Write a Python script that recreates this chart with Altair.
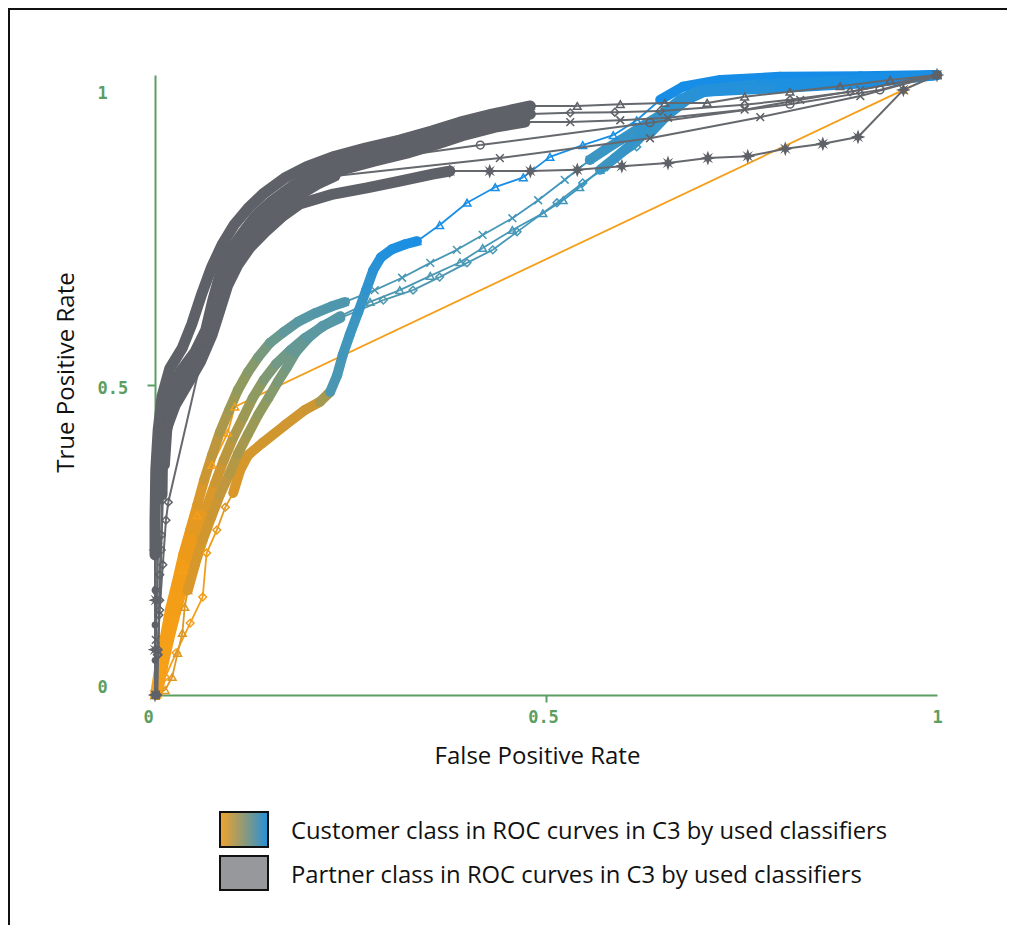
import altair as alt
import pandas as pd

# ---------------- Partner class curves (gray): (FPR, TPR) ----------------
partner_a_start = [(0.0, 0.0), (0.0, 0.056), (0.0, 0.113), (0.0, 0.169), (0.0, 0.226)]
partner_a_band = [(0.0, 0.226), (0.0, 0.282), (0.001, 0.363), (0.004, 0.427), (0.009, 0.482), (0.019, 0.527),
                  (0.035, 0.560), (0.047, 0.598), (0.059, 0.644), (0.072, 0.689), (0.086, 0.727), (0.101, 0.758),
                  (0.119, 0.785), (0.138, 0.808), (0.166, 0.834), (0.194, 0.852), (0.230, 0.869), (0.269, 0.882),
                  (0.313, 0.895), (0.355, 0.910), (0.390, 0.924), (0.431, 0.937), (0.480, 0.950)]
partner_a_tail = [(0.480, 0.950), (0.540, 0.950), (0.595, 0.953), (0.652, 0.955), (0.706, 0.955), (0.754, 0.965),
                  (0.812, 0.973), (0.876, 0.982), (0.940, 0.992), (1.0, 1.0)]

partner_b_start = [(0.003, 0.0), (0.004, 0.065), (0.005, 0.129), (0.006, 0.194), (0.008, 0.258), (0.009, 0.323)]
partner_b_band = [(0.009, 0.323), (0.010, 0.427), (0.019, 0.479), (0.032, 0.521), (0.051, 0.553), (0.065, 0.589),
                  (0.074, 0.637), (0.084, 0.682), (0.097, 0.718), (0.113, 0.747), (0.129, 0.773), (0.148, 0.795),
                  (0.176, 0.821), (0.202, 0.839), (0.237, 0.856), (0.275, 0.869), (0.317, 0.882), (0.359, 0.897),
                  (0.390, 0.910), (0.432, 0.924), (0.480, 0.937)]
partner_b_tail = [(0.480, 0.937), (0.531, 0.939), (0.588, 0.940), (0.646, 0.942), (0.754, 0.952), (0.812, 0.960),
                  (0.889, 0.973), (1.0, 1.0)]

partner_c_start = [(0.001, 0.0), (0.001, 0.089), (0.003, 0.169), (0.004, 0.250), (0.004, 0.323)]
partner_c_band = [(0.004, 0.323), (0.006, 0.363), (0.013, 0.424), (0.023, 0.473), (0.036, 0.511), (0.052, 0.547),
                  (0.069, 0.581), (0.077, 0.629), (0.088, 0.673), (0.101, 0.708), (0.116, 0.737), (0.133, 0.763),
                  (0.153, 0.785), (0.182, 0.811), (0.208, 0.831), (0.242, 0.848), (0.280, 0.861), (0.322, 0.874),
                  (0.362, 0.889), (0.393, 0.902), (0.435, 0.916), (0.473, 0.924)]
partner_c_tail = [(0.473, 0.924), (0.531, 0.924), (0.595, 0.927), (0.656, 0.931), (0.754, 0.944), (0.825, 0.960),
                  (0.902, 0.976), (1.0, 1.0)]

partner_d_start = [(0.0, 0.0), (0.003, 0.065), (0.006, 0.137), (0.010, 0.210), (0.014, 0.282), (0.017, 0.311),
                   (0.064, 0.568)]
partner_d_band = [(0.064, 0.568), (0.075, 0.637), (0.083, 0.669), (0.096, 0.710), (0.113, 0.740), (0.129, 0.768),
                  (0.148, 0.792), (0.173, 0.815), (0.198, 0.834), (0.217, 0.853)]
partner_d_tail = [(0.217, 0.853), (0.416, 0.887), (0.633, 0.923), (0.812, 0.953), (0.927, 0.976), (1.0, 1.0)]

partner_e_start = [(0.001, 0.0), (0.004, 0.073), (0.006, 0.153), (0.008, 0.234), (0.010, 0.315), (0.012, 0.371)]
partner_e_band = [(0.012, 0.371), (0.015, 0.427), (0.023, 0.476), (0.037, 0.516), (0.052, 0.548), (0.066, 0.585),
                  (0.075, 0.631), (0.087, 0.673), (0.101, 0.705), (0.118, 0.734), (0.134, 0.758), (0.155, 0.781),
                  (0.183, 0.805), (0.208, 0.824), (0.230, 0.837)]
partner_e_tail = [(0.230, 0.837), (0.441, 0.866), (0.633, 0.898), (0.774, 0.932), (0.902, 0.966), (1.0, 1.0)]

partner_f_start = [(0.0, 0.0), (0.0, 0.073), (0.001, 0.153), (0.001, 0.234), (0.003, 0.315)]
partner_f_band = [(0.003, 0.315), (0.006, 0.363), (0.013, 0.424), (0.026, 0.468), (0.041, 0.500), (0.058, 0.537),
                  (0.073, 0.581), (0.083, 0.621), (0.093, 0.661), (0.106, 0.694), (0.121, 0.721), (0.141, 0.747),
                  (0.164, 0.773), (0.185, 0.792), (0.228, 0.808), (0.271, 0.818), (0.313, 0.829), (0.355, 0.840),
                  (0.377, 0.845)]
partner_f_tail = [(0.377, 0.845), (0.428, 0.845), (0.480, 0.845), (0.540, 0.847), (0.597, 0.853), (0.656, 0.858),
                  (0.707, 0.866), (0.758, 0.869), (0.806, 0.881), (0.854, 0.889), (0.899, 0.900), (0.957, 0.976),
                  (1.0, 1.0)]

# ---------------- Customer class curves (gradient): (FPR, TPR, cutoff) ----------------
customer_a_start = [(0.0, 0.0, 0.0), (0.013, 0.029, 0.02), (0.027, 0.068, 0.04), (0.045, 0.116, 0.06),
                    (0.061, 0.158, 0.08), (0.066, 0.229, 0.16), (0.079, 0.266, 0.20), (0.090, 0.303, 0.23),
                    (0.100, 0.326, 0.25)]
customer_a_band = [(0.100, 0.326, 0.25), (0.109, 0.363, 0.26), (0.119, 0.387, 0.27), (0.137, 0.406, 0.28),
                   (0.166, 0.435, 0.29), (0.192, 0.460, 0.30), (0.211, 0.473, 0.40), (0.224, 0.489, 0.68),
                   (0.233, 0.516, 0.70), (0.240, 0.548, 0.72), (0.249, 0.581, 0.75), (0.260, 0.618, 0.78),
                   (0.270, 0.653, 0.82), (0.279, 0.685, 0.85), (0.289, 0.706, 0.88), (0.303, 0.719, 0.90),
                   (0.320, 0.727, 0.92), (0.335, 0.732, 0.94)]
customer_a_tail = [(0.335, 0.732, 0.94), (0.364, 0.758, 0.94), (0.399, 0.794, 0.95), (0.435, 0.819, 0.95),
                   (0.471, 0.835, 0.95), (0.505, 0.868, 0.96), (0.547, 0.887, 0.96), (0.586, 0.903, 0.96),
                   (0.616, 0.927, 0.97), (0.646, 0.960, 0.97)]
customer_a_top = [(0.646, 0.960, 0.97), (0.675, 0.981, 0.98), (0.723, 0.992, 0.98), (0.799, 0.997, 0.99),
                  (0.902, 0.998, 0.99), (1.0, 1.0, 1.0)]

customer_b_band = [(0.0, 0.0, 0.0), (0.005, 0.040, 0.03), (0.012, 0.089, 0.06), (0.019, 0.137, 0.10),
                   (0.027, 0.177, 0.13), (0.036, 0.226, 0.17), (0.045, 0.266, 0.20), (0.054, 0.306, 0.25),
                   (0.063, 0.347, 0.30), (0.073, 0.387, 0.34), (0.083, 0.424, 0.38), (0.095, 0.460, 0.42),
                   (0.106, 0.492, 0.45), (0.119, 0.521, 0.48), (0.132, 0.545, 0.52), (0.147, 0.568, 0.56),
                   (0.164, 0.585, 0.59), (0.183, 0.602, 0.62), (0.205, 0.616, 0.64), (0.226, 0.627, 0.66),
                   (0.243, 0.634, 0.67)]
customer_b_tail = [(0.243, 0.634, 0.67), (0.281, 0.653, 0.68), (0.316, 0.673, 0.69), (0.352, 0.697, 0.70),
                   (0.386, 0.718, 0.70), (0.419, 0.742, 0.71), (0.457, 0.769, 0.72), (0.490, 0.798, 0.73),
                   (0.524, 0.831, 0.74), (0.556, 0.863, 0.75)]
customer_b_top = [(0.556, 0.863, 0.75), (0.575, 0.879, 0.77), (0.595, 0.895, 0.78), (0.620, 0.915, 0.80),
                  (0.646, 0.935, 0.82), (0.671, 0.960, 0.85), (0.697, 0.976, 0.87), (0.774, 0.985, 0.90),
                  (0.863, 0.990, 0.93), (0.940, 0.995, 0.96), (1.0, 1.0, 1.0)]

customer_c_band = [(0.003, 0.0, 0.0), (0.010, 0.044, 0.03), (0.018, 0.089, 0.06), (0.027, 0.134, 0.10),
                   (0.036, 0.174, 0.13), (0.046, 0.218, 0.17), (0.056, 0.261, 0.21), (0.066, 0.303, 0.25),
                   (0.077, 0.342, 0.30), (0.088, 0.379, 0.34), (0.100, 0.415, 0.38), (0.113, 0.448, 0.42),
                   (0.125, 0.479, 0.46), (0.139, 0.508, 0.50), (0.155, 0.534, 0.54), (0.173, 0.556, 0.58),
                   (0.192, 0.576, 0.61), (0.214, 0.594, 0.64), (0.237, 0.611, 0.66)]
customer_c_tail = [(0.237, 0.611, 0.66), (0.275, 0.634, 0.67), (0.313, 0.653, 0.68), (0.352, 0.676, 0.69),
                   (0.390, 0.698, 0.70), (0.419, 0.721, 0.71), (0.457, 0.750, 0.72), (0.496, 0.777, 0.73),
                   (0.522, 0.798, 0.74), (0.543, 0.819, 0.75), (0.569, 0.847, 0.76)]
customer_c_top = [(0.569, 0.847, 0.76), (0.588, 0.866, 0.78), (0.611, 0.890, 0.80), (0.633, 0.915, 0.82),
                  (0.655, 0.939, 0.84), (0.680, 0.960, 0.86), (0.703, 0.973, 0.88), (0.786, 0.982, 0.91),
                  (0.889, 0.992, 0.95), (1.0, 1.0, 1.0)]

customer_d_start = [(0.0, 0.0, 0.22), (0.013, 0.008, 0.22), (0.022, 0.029, 0.23), (0.029, 0.068, 0.23),
                    (0.035, 0.100, 0.24), (0.038, 0.142, 0.24), (0.042, 0.169, 0.25)]
customer_d_band = [(0.042, 0.169, 0.25), (0.051, 0.210, 0.26), (0.061, 0.250, 0.28), (0.072, 0.287, 0.30),
                   (0.083, 0.323, 0.33), (0.095, 0.356, 0.36), (0.106, 0.389, 0.39), (0.119, 0.421, 0.42),
                   (0.132, 0.452, 0.45), (0.145, 0.479, 0.48), (0.157, 0.505, 0.51), (0.169, 0.529, 0.54),
                   (0.180, 0.553, 0.57), (0.196, 0.576, 0.60), (0.214, 0.595, 0.63), (0.237, 0.608, 0.65)]
customer_d_tail = [(0.237, 0.608, 0.65), (0.292, 0.637, 0.66), (0.330, 0.653, 0.67), (0.364, 0.674, 0.68),
                   (0.399, 0.697, 0.69), (0.432, 0.718, 0.70), (0.463, 0.747, 0.71), (0.514, 0.794, 0.73),
                   (0.547, 0.826, 0.74), (0.578, 0.852, 0.75), (0.616, 0.884, 0.77), (0.633, 0.906, 0.78)]
customer_d_top = [(0.633, 0.906, 0.78), (0.655, 0.935, 0.82), (0.680, 0.960, 0.85), (0.701, 0.973, 0.87),
                  (0.799, 0.979, 0.90), (0.914, 0.987, 0.95), (1.0, 1.0, 1.0)]

customer_o_line = [(0.0, 0.0, 0.02), (0.006, 0.024, 0.02), (0.019, 0.113, 0.03), (0.036, 0.202, 0.03),
                   (0.054, 0.290, 0.04), (0.073, 0.371, 0.04), (0.093, 0.423, 0.05), (0.102, 0.465, 0.05),
                   (0.957, 0.976, 0.05), (1.0, 1.0, 0.05)]

axis_ticks = [0, 0.5, 1]
legend_labels = ["Customer class in ROC curves in C3 by used classifiers",
                 "Partner class in ROC curves in C3 by used classifiers"]

# ---------------- styling ----------------
GREEN = "#5c9e62"
GRAY = "#5e6167"
GRAY_THIN = "#65686d"
X_PATH = "M-1,-1L1,1M-1,1L1,-1"
STAR = ("M0,-1L0.22,-0.38L0.71,-0.71L0.38,-0.22L1,0L0.38,0.22L0.71,0.71L0.22,0.38L0,1L-0.22,0.38"
        "L-0.71,0.71L-0.38,0.22L-1,0L-0.38,-0.22L-0.71,-0.71L-0.22,-0.38Z")
TITLE_FONT = "Open Sans"

curves = {
    "pA": ("partner", [("sparse", partner_a_start), ("band", partner_a_band), ("sparse", partner_a_tail)]),
    "pB": ("partner", [("sparse", partner_b_start), ("band", partner_b_band), ("sparse", partner_b_tail)]),
    "pC": ("partner", [("sparse", partner_c_start), ("band", partner_c_band), ("sparse", partner_c_tail)]),
    "pD": ("partner", [("sparse", partner_d_start), ("band", partner_d_band), ("sparse", partner_d_tail)]),
    "pE": ("partner", [("sparse", partner_e_start), ("band", partner_e_band), ("sparse", partner_e_tail)]),
    "pF": ("partner", [("sparse", partner_f_start), ("band", partner_f_band), ("sparse", partner_f_tail)]),
    "cO": ("customer", [("sparse", customer_o_line)]),
    "cA": ("customer", [("sparse", customer_a_start), ("band", customer_a_band), ("sparse", customer_a_tail),
                        ("band", customer_a_top)]),
    "cB": ("customer", [("band", customer_b_band), ("sparse", customer_b_tail), ("band", customer_b_top)]),
    "cC": ("customer", [("band", customer_c_band), ("sparse", customer_c_tail), ("band", customer_c_top)]),
    "cD": ("customer", [("sparse", customer_d_start), ("band", customer_d_band), ("sparse", customer_d_tail),
                        ("band", customer_d_top)]),
}

shape_map = {
    "pA-0": "circle", "pA-2": "triangle-up",
    "pB-0": "diamond", "pB-2": "diamond",
    "pC-0": X_PATH, "pC-2": X_PATH,
    "pD-0": "diamond", "pD-2": "circle",
    "pE-0": "diamond", "pE-2": X_PATH,
    "pF-0": STAR, "pF-2": STAR,
    "cO-0": "triangle-up",
    "cA-0": "diamond", "cA-2": "triangle-up",
    "cB-1": X_PATH, "cC-1": "triangle-up",
    "cD-0": "triangle-up", "cD-2": "diamond",
}
star_keys = ["pF-0", "pF-2"]
dot_keys = ["pA-0"]

seg_rows, pt_rows = [], []
for name, (cls, parts) in curves.items():
    for pi, (kind, pts) in enumerate(parts):
        key = f"{name}-{pi}"
        for i in range(len(pts) - 1):
            p, q = pts[i], pts[i + 1]
            seg_rows.append(dict(name=name, cls=cls, kind=kind, key=key, x=p[0], y=p[1], x2=q[0], y2=q[1],
                                 cut=p[2] if len(p) > 2 else 0.0))
        for i, p in enumerate(pts):
            pt_rows.append(dict(name=name, cls=cls, kind=kind, key=key, idx=i, x=p[0], y=p[1],
                                cut=p[2] if len(p) > 2 else 0.0))

segs = pd.DataFrame(seg_rows)
pts_df = pd.DataFrame(pt_rows)

xscale = alt.Scale(domain=[0, 1], nice=False, zero=False)
yscale = alt.Scale(domain=[0, 1], nice=False, zero=False)
mid_tick_only = {"condition": {"test": "datum.value == 0.5", "value": 1}, "value": 0}

x_axis = alt.Axis(values=axis_ticks, format="~g", grid=False, domainColor=GREEN, domainWidth=2,
                  tickColor=GREEN, tickWidth=2, tickSize=7, tickOpacity=mid_tick_only,
                  labelColor=GREEN, labelFont="DejaVu Sans Mono", labelFontWeight="bold",
                  labelFontSize=17, labelPadding=7, labelFlush=False,
                  labelOffset={"condition": [{"test": "datum.value == 0", "value": -7},
                                             {"test": "datum.value == 0.5", "value": -3}], "value": 0},
                  title="False Positive Rate", titleFont=TITLE_FONT, titleFontSize=24,
                  titleFontWeight="normal", titleColor="#111111", titleX=382, titleY=61,
                  titleBaseline="middle")
y_axis = alt.Axis(values=axis_ticks, format="~g", grid=False, domainColor=GREEN, domainWidth=2,
                  tickColor=GREEN, tickWidth=2, tickSize=8, tickOpacity=mid_tick_only,
                  labelColor=GREEN, labelFont="DejaVu Sans Mono", labelFontWeight="bold",
                  labelFontSize=17, labelPadding=50, labelAlign="left",
                  labelOffset={"condition": [{"test": "datum.value == 1", "value": 18},
                                             {"test": "datum.value == 0", "value": -8}], "value": 3},
                  title="True Positive Rate", titleFont=TITLE_FONT, titleFontSize=24,
                  titleFontWeight="normal", titleColor="#111111", titleX=-89, titleY=297,
                  titleAngle=-90, titleBaseline="middle", titleAlign="center")

X = alt.X("x:Q", scale=xscale, axis=x_axis)
Y = alt.Y("y:Q", scale=yscale, axis=y_axis)

cscale = alt.Scale(domain=[0, 0.15, 0.3, 0.45, 0.6, 0.75, 0.9, 1],
                   range=["#f7a01a", "#f29b16", "#cc9633", "#909a5e", "#5c98a0", "#3c96c0", "#1e90e0", "#148ce8"],
                   interpolate="rgb")
C = alt.Color("cut:Q", scale=cscale, legend=None)
S = alt.Shape("key:N", scale=alt.Scale(domain=list(shape_map.keys()), range=list(shape_map.values())),
              legend=None)

base_seg = alt.Chart(segs)
base_pt = alt.Chart(pts_df)

cust_thin = base_seg.mark_rule(strokeWidth=1.8).encode(
    x=X, y=Y, x2="x2:Q", y2="y2:Q", color=C
).transform_filter("datum.cls == 'customer' && datum.kind == 'sparse'")
cust_band = base_seg.mark_rule(strokeWidth=10, strokeCap="round").encode(
    x=X, y=Y, x2="x2:Q", y2="y2:Q", color=C
).transform_filter("datum.cls == 'customer' && datum.kind == 'band'")
cust_marks = base_pt.mark_point(filled=False, size=60, strokeWidth=1.5, opacity=1).encode(
    x=X, y=Y, color=C, shape=S
).transform_filter("datum.cls == 'customer' && datum.kind == 'sparse'")

part_thin = base_seg.mark_rule(strokeWidth=2, color=GRAY_THIN).encode(
    x=X, y=Y, x2="x2:Q", y2="y2:Q"
).transform_filter("datum.cls == 'partner' && datum.kind == 'sparse'")
part_band = base_pt.mark_line(strokeWidth=11, strokeCap="round", strokeJoin="round", color=GRAY).encode(
    x=X, y=Y, detail="key:N", order="idx:Q"
).transform_filter("datum.cls == 'partner' && datum.kind == 'band'")


def key_test(keys):
    return " || ".join(f"datum.key == '{k}'" for k in keys)


part_marks_open = base_pt.mark_point(filled=False, size=60, strokeWidth=1.5, color=GRAY, opacity=1).encode(
    x=X, y=Y, shape=S
).transform_filter(f"datum.cls == 'partner' && datum.kind == 'sparse' && !({key_test(star_keys + dot_keys)})")
part_marks_star = base_pt.mark_point(filled=True, size=220, color=GRAY, opacity=1).encode(
    x=X, y=Y, shape=S
).transform_filter(key_test(star_keys))
part_marks_dot = base_pt.mark_point(filled=True, size=45, color=GRAY, opacity=1).encode(
    x=X, y=Y, shape=S
).transform_filter(key_test(dot_keys))

# ---------------- legend & frame (layout decorations, pixel space) ----------------
one = pd.DataFrame({"i": [0]})
grad = alt.LinearGradient(gradient="linear", x1=0, x2=1, y1=0, y2=0,
                          stops=[alt.GradientStop(color="#f2a22c", offset=0),
                                 alt.GradientStop(color="#8e9a78", offset=0.5),
                                 alt.GradientStop(color="#2490d8", offset=1)])
sw1 = alt.Chart(one).mark_rect(fill=grad, stroke="#111111", strokeWidth=2).encode(
    x=alt.value(65), x2=alt.value(113), y=alt.value(737), y2=alt.value(772))
sw2 = alt.Chart(one).mark_rect(fill="#96989c", stroke="#111111", strokeWidth=2).encode(
    x=alt.value(65), x2=alt.value(113), y=alt.value(781), y2=alt.value(815))
lt1 = alt.Chart(one).mark_text(align="left", baseline="middle", font=TITLE_FONT, fontSize=23.8,
                               color="#111111").encode(x=alt.value(136), y=alt.value(757),
                                                       text=alt.value(legend_labels[0]))
lt2 = alt.Chart(one).mark_text(align="left", baseline="middle", font=TITLE_FONT, fontSize=23.8,
                               color="#111111").encode(x=alt.value(136), y=alt.value(801),
                                                       text=alt.value(legend_labels[1]))
frame_top = alt.Chart(one).mark_rule(color="#111111", strokeWidth=2).encode(
    x=alt.value(-147), x2=alt.value(900), y=alt.value(-66))
frame_left = alt.Chart(one).mark_rule(color="#111111", strokeWidth=2).encode(
    x=alt.value(-146), y=alt.value(-67), y2=alt.value(900))

chart = alt.layer(
    cust_thin, cust_band, cust_marks, part_thin, part_band, part_marks_open, part_marks_star, part_marks_dot,
    sw1, sw2, lt1, lt2, frame_top, frame_left
).properties(
    width=782, height=620,
    autosize=alt.AutoSizeParams(type="none"),
    padding={"left": 147, "top": 67, "right": 70, "bottom": 230},
    background="white",
).configure_view(stroke=None)

chart.save("out.html", embed_options={"renderer": "svg", "actions": False})
